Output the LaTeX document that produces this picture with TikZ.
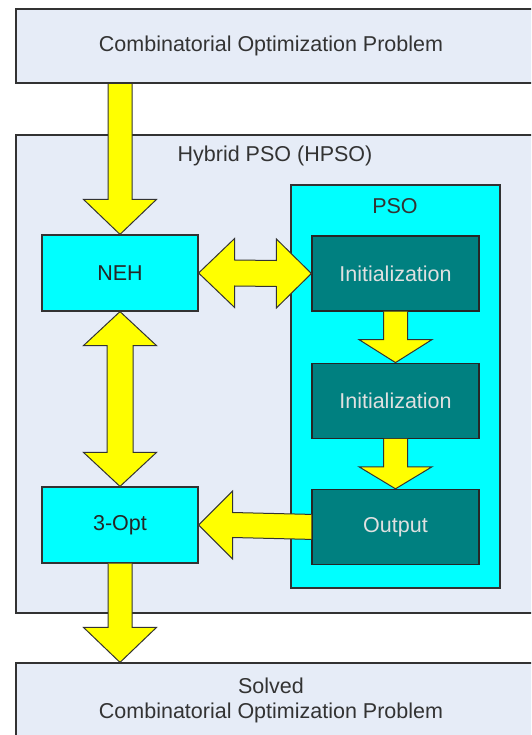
\documentclass[tikz,border=0pt]{standalone}
\usepackage{fontspec}
\setmainfont{Liberation Sans}
\usetikzlibrary{calc,positioning}

\definecolor{paleblue}{RGB}{230,236,247}
\definecolor{psocyan}{RGB}{0,255,255}
\definecolor{darkteal}{RGB}{0,128,128}
\definecolor{arrowyellow}{RGB}{255,255,0}
\definecolor{edgegray}{RGB}{50,50,50}

\tikzset{
  outerbox/.style={draw=edgegray, fill=paleblue, line width=1.2pt},
  cyanbox/.style={draw=edgegray, fill=psocyan, line width=1.2pt, text=black!85},
  stepbox/.style={draw=black!85, fill=darkteal, line width=1.2pt, text=white!88!black,
    minimum width=167, minimum height=75},
  fatarrow/.style={draw=black!80, fill=arrowyellow, line width=1pt, line join=miter},
  lbl/.style={text=black!80, inner sep=0pt, align=center}
}

% fat arrows, drawn from one anchor to another
\newcommand{\downfat}[3][35]{%
  \draw[fatarrow] ($(#2)+(-12,0)$) -- ($(#3)+(-12,-#1)$) -- ($(#3)+(-36.5,-#1)$) -- (#3)
    -- ($(#3)+(36.5,-#1)$) -- ($(#3)+(12,-#1)$) -- ($(#2)+(12,0)$);}
\newcommand{\updownfat}[2]{%
  \draw[fatarrow] (#1) -- ($(#1)+(36.5,34)$) -- ($(#1)+(13,34)$) -- ($(#2)+(13,-34)$)
    -- ($(#2)+(36.5,-34)$) -- (#2) -- ($(#2)+(-36.5,-34)$) -- ($(#2)+(-13,-34)$)
    -- ($(#1)+(-13,34)$) -- ($(#1)+(-36.5,34)$) -- cycle;}
\newcommand{\leftrightfat}[2]{%
  \draw[fatarrow] (#1) -- ($(#1)+(36,-34.5)$) -- ($(#1)+(36,-13)$) -- ($(#2)+(-35,-13)$)
    -- ($(#2)+(-35,-34.5)$) -- (#2) -- ($(#2)+(-35,34.5)$) -- ($(#2)+(-35,13)$)
    -- ($(#1)+(36,13)$) -- ($(#1)+(36,34.5)$) -- cycle;}
\newcommand{\leftfat}[2]{%
  \draw[fatarrow] ($(#1)+(0,-12.5)$) -- ($(#2)+(34,-12.5)$) -- ($(#2)+(34,-34)$) -- (#2)
    -- ($(#2)+(34,34)$) -- ($(#2)+(34,12.5)$) -- ($(#1)+(0,12.5)$);}

\begin{document}
\begin{tikzpicture}[x=1pt, y=-1pt, font=\fontsize{21.5}{25}\selectfont]
    \useasboundingbox (0,0) rectangle (531,735);
    \clip (0,0) rectangle (531,735);
    \fill[white] (0,0) rectangle (531,735);

    % outer boxes
    \node[outerbox, minimum width=529, minimum height=74] (prob) at (280.5,46) {};
    \node[lbl] (probtext) at (271,46) {Combinatorial Optimization Problem};
    \node[outerbox, minimum width=529, minimum height=478] (hpso) at (280.5,374) {};
    \node[lbl] (hpsotext) at (275,156) {Hybrid PSO (HPSO)};
    \node[outerbox, minimum width=529, minimum height=100] (solved) at (280.5,713) {};
    \node[lbl] (solvedtext) at (271,700.5) {Solved\\Combinatorial Optimization Problem};

    % PSO part
    \node[cyanbox, minimum width=209, minimum height=403] (pso) at (395.5,386.5) {};
    \node[lbl] (psotext) at (395,206) {PSO};
    \node[stepbox] (init1) at (395.5,273.5) {Initialization};
    \node[stepbox, below=51pt of init1] (init2) {Initialization};
    \node[stepbox, below=50pt of init2] (output) {Output};

    % local search
    \node[cyanbox, minimum width=156, minimum height=76] (neh) at (120,273) {NEH};
    \node[cyanbox, minimum width=156, minimum height=76] (opt) at (120,525) {3-Opt};

    % arrows
    \coordinate (top) at ($(neh.north |- prob.south)+(0,0.6)$);
    \coordinate (bot) at (opt.south |- solved.north);
    \downfat{top}{neh.north}
    \downfat[23]{init1.south}{init2.north}
    \downfat[22]{init2.south}{output.north}
    \downfat{opt.south}{bot}
    \updownfat{neh.south}{opt.north}
    \leftrightfat{neh.east}{init1.west}
    \leftfat{output.west}{opt.east}
\end{tikzpicture}
\end{document}
